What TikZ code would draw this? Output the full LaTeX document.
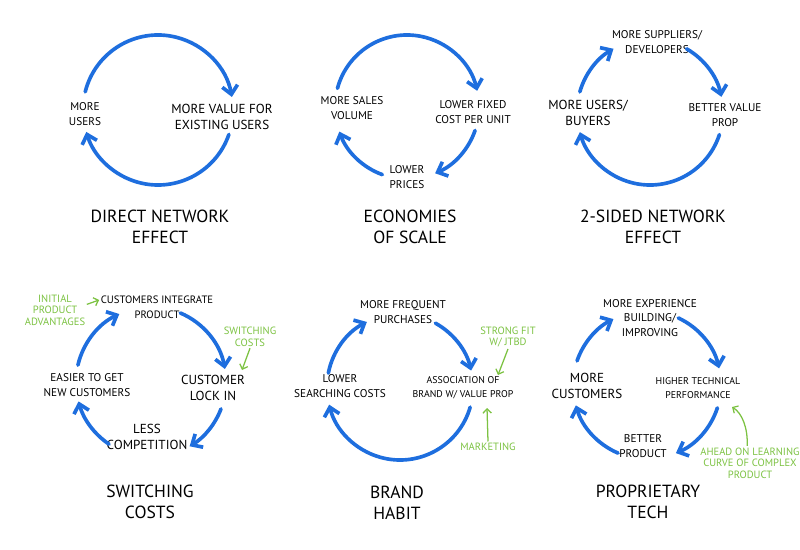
\documentclass[tikz,border=0pt]{standalone}
\usepackage{fontspec}
\setmainfont{PT Sans}
\usepackage{xcolor}
\usepackage{tikz}
\usetikzlibrary{arrows.meta, calc}
\definecolor{loopblue}{RGB}{30, 110, 222}
\definecolor{notegreen}{RGB}{124, 194, 66}

\begin{document}
\begin{tikzpicture}[
    x=0.025cm, y=-0.025cm,
    lbl/.style={align=center, inner sep=1pt, font=\fontsize{8}{10.5}\selectfont},
    lblbig/.style={lbl, font=\fontsize{9.3}{11}\selectfont},
    lblsmall/.style={lbl, font=\fontsize{7}{10}\selectfont},
    heading/.style={align=center, inner sep=1pt, font=\fontsize{12.5}{15}\selectfont},
    remark/.style={align=center, inner sep=1pt, text=notegreen, font=\fontsize{7.5}{8.2}\selectfont},
    cyc/.style={-{Straight Barb[length=6pt, width=11pt]}, line width=2.6pt, loopblue, line cap=round},
    hint/.style={-{Straight Barb[length=3pt, width=6pt]}, line width=0.9pt, notegreen}
]
\useasboundingbox (0,0) rectangle (800,550);

% top row
\coordinate (c1) at (158,110);
\coordinate (c2) at (407,107);
\coordinate (c3) at (650,112);

\node[lbl] (users1) at (85,114) {MORE\\USERS};
\node[lblbig] (value1) at (222,117) {MORE VALUE FOR\\EXISTING USERS};
\node[heading] (t1) at (160,227) {DIRECT NETWORK\\EFFECT};

\node[lbl] (sales2) at (352,108) {MORE SALES\\VOLUME};
\node[lbl] (fixed2) at (473,112) {LOWER FIXED\\COST PER UNIT};
\node[lbl] (price2) at (407,177) {LOWER\\PRICES};
\node[heading] (t2) at (410,227) {ECONOMIES\\OF SCALE};

\node[lblbig] (buyers3) at (588,113) {MORE USERS/\\BUYERS};
\node[lbl] (devs3) at (657,42) {MORE SUPPLIERS/\\DEVELOPERS};
\node[lbl] (prop3) at (725,115) {BETTER VALUE\\PROP};
\node[heading] (t3) at (653,227) {2-SIDED NETWORK\\EFFECT};

\foreach \a/\b in {194/350, 19/163}
    \draw[cyc] ($(c1)+(\a:75)$) arc[start angle=\a, end angle=\b, radius=75];
\foreach \a/\b in {195/347, 19/67, 110/160}
    \draw[cyc] ($(c2)+(\a:72)$) arc[start angle=\a, end angle=\b, radius=72];
\foreach \a/\b in {196/240, 300/348, 18/164}
    \draw[cyc] ($(c3)+(\a:73)$) arc[start angle=\a, end angle=\b, radius=73];

% bottom row
\coordinate (c4) at (151,382);
\coordinate (c5) at (400,387);
\coordinate (c6) at (647,385);

\node[lbl, font=\fontsize{7.6}{10.5}\selectfont] (integ4) at (157,307) {CUSTOMERS INTEGRATE\\PRODUCT};
\node[lblbig] (lock4) at (213,388) {CUSTOMER\\LOCK IN};
\node[lblbig] (comp4) at (147,437) {LESS\\COMPETITION};
\node[lbl] (easy4) at (87,385) {EASIER TO GET\\NEW CUSTOMERS};
\node[heading] (t4) at (150,502) {SWITCHING\\COSTS};
\node[remark] (adv4) at (55,310) {INITIAL\\PRODUCT\\ADVANTAGES};
\node[remark] (swc4) at (250,337) {SWITCHING\\COSTS};
\coordinate (swtip) at (242,370);

\node[lbl] (freq5) at (403,312) {MORE FREQUENT\\PURCHASES};
\node[lblsmall] (assoc5) at (463,388) {ASSOCIATION OF\\BRAND W/ VALUE PROP};
\node[lbl] (search5) at (340,386) {LOWER\\SEARCHING COSTS};
\node[heading] (t5) at (397,503) {BRAND\\HABIT};
\node[remark] (fit5) at (508,337) {STRONG FIT\\W/ JTBD};
\node[remark] (mkt5) at (488,447) {MARKETING};
\coordinate (fittip) at (498,375);
\coordinate (mkttip) at (487,408);

\node[lbl] (exp6) at (650,318) {MORE EXPERIENCE\\BUILDING/\\IMPROVING};
\node[lblsmall] (perf6) at (698,388) {HIGHER TECHNICAL\\PERFORMANCE};
\node[lbl] (better6) at (643,446) {BETTER\\PRODUCT};
\node[lblbig] (cust6) at (587,386) {MORE\\CUSTOMERS};
\node[heading] (t6) at (648,502) {PROPRIETARY\\TECH};
\node[remark] (ahead6) at (750,463) {AHEAD ON LEARNING\\CURVE OF COMPLEX\\PRODUCT};
\coordinate (aheadtip) at (732,407);

\foreach \a/\b in {293/350, 21/59, 124/165, 193/245}
    \draw[cyc] ($(c4)+(\a:75)$) arc[start angle=\a, end angle=\b, radius=75];
\foreach \a/\b in {191/243, 299/347, 16/166}
    \draw[cyc] ($(c5)+(\a:73)$) arc[start angle=\a, end angle=\b, radius=73];
\foreach \a/\b in {199/243, 295/347, 18/67, 113/164}
    \draw[cyc] ($(c6)+(\a:74)$) arc[start angle=\a, end angle=\b, radius=74];

% green notes
\draw[hint] ([yshift=4pt]adv4.east) -- ([yshift=5pt]integ4.west);
\draw[hint] (swc4.south) -- (swtip);
\draw[hint] (fit5.south) -- (fittip);
\draw[hint] (mkt5.north) -- (mkttip);
\draw[hint] ([xshift=-2pt]ahead6.north) .. controls (748,428) and (742,413) .. (aheadtip);
\end{tikzpicture}
\end{document}
